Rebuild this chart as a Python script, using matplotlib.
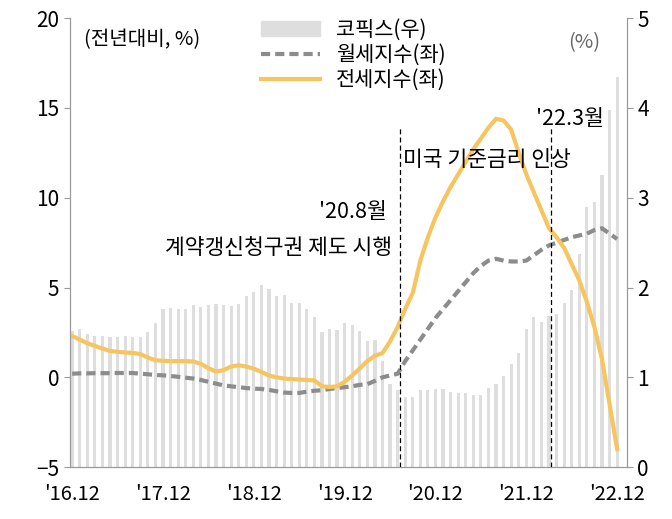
import numpy as np
import matplotlib.pyplot as plt
import matplotlib.patches as mpatches
from matplotlib.lines import Line2D

plt.rcParams['font.family'] = 'Noto Sans CJK KR'

# %% data (monthly, 2016.12 ~ 2022.12)
cofix = [1.52, 1.54, 1.48, 1.46, 1.46, 1.45, 1.45, 1.46, 1.45, 1.45, 1.51, 1.60, 1.76, 1.77, 1.76,
         1.76, 1.80, 1.78, 1.80, 1.82, 1.80, 1.79, 1.82, 1.91, 1.95, 2.03, 1.98, 1.91, 1.92, 1.83,
         1.83, 1.76, 1.67, 1.51, 1.54, 1.53, 1.61, 1.58, 1.52, 1.41, 1.42, 1.18, 0.92,
         0.86, 0.78, 0.78, 0.86, 0.86, 0.87, 0.87, 0.84, 0.82, 0.82, 0.80, 0.80, 0.88, 0.93, 1.01,
         1.15, 1.27, 1.54, 1.67, 1.62, 1.68, 1.71, 1.83, 1.97, 2.37, 2.90, 2.95, 3.25, 3.98, 4.35]
jeonse = [2.3, 2.1, 1.9, 1.75, 1.6, 1.47, 1.42, 1.38, 1.36, 1.3, 1.1, 0.95, 0.92, 0.9, 0.9, 0.9,
          0.88, 0.75, 0.5, 0.32, 0.4, 0.6, 0.67, 0.6, 0.48, 0.3, 0.1, 0.0, -0.07, -0.1, -0.12,
          -0.15, -0.17, -0.5, -0.54, -0.5, -0.25, 0.1, 0.5, 0.9, 1.2, 1.35, 2.0, 2.8, 3.8, 4.7,
          6.5, 7.8, 8.9, 9.8, 10.6, 11.3, 12.0, 12.7, 13.3, 13.9, 14.4, 14.3, 13.8, 12.5, 11.3,
          10.3, 9.3, 8.3, 7.8, 7.2, 6.3, 5.4, 4.2, 2.8, 1.0, -1.5, -4.0]
wolse = [0.2, 0.22, 0.22, 0.23, 0.23, 0.23, 0.24, 0.24, 0.24, 0.2, 0.17, 0.13, 0.11, 0.07, 0.03,
         -0.02, -0.07, -0.15, -0.25, -0.35, -0.45, -0.5, -0.55, -0.6, -0.63, -0.65, -0.7, -0.78,
         -0.85, -0.87, -0.87, -0.8, -0.75, -0.72, -0.65, -0.6, -0.55, -0.5, -0.42, -0.38, -0.2,
         0.0, 0.1, 0.2, 0.9, 1.5, 2.1, 2.7, 3.3, 3.8, 4.3, 4.8, 5.3, 5.8, 6.2, 6.5, 6.6, 6.5,
         6.45, 6.45, 6.5, 6.8, 7.1, 7.35, 7.5, 7.65, 7.8, 7.9, 8.0, 8.2, 8.3, 8.0, 7.7]
xtick_labels = ["'16.12", "'17.12", "'18.12", "'19.12", "'20.12", "'21.12", "'22.12"]

x = np.arange(len(cofix))

# %% plot
fig = plt.figure(figsize=(6.72, 5.19), dpi=100)
ax = fig.add_axes([0.104, 0.1, 0.829, 0.865])
ax2 = ax.twinx()

ax2.bar(x, cofix, width=0.42, color='#dedede', zorder=1)
ax2.set_ylim(0, 5)
ax.set_zorder(ax2.get_zorder() + 1)
ax.patch.set_visible(False)

ax.plot(x, wolse, color='#8c8c8c', lw=3, ls=(0, (2.2, 1.2)))
ax.plot(x, jeonse, color='#f6c55f', lw=3)
ax.axvline(43.3, color='black', lw=0.9, ls=(0, (4, 2.5)), ymax=0.76)
ax.axvline(63.3, color='black', lw=0.9, ls=(0, (4, 2.5)), ymax=0.76)

ax.set_ylim(-5, 20)
ax.set_xlim(-0.3, 73.3)
ax.set_xticks(np.arange(0, 73, 12))
ax.set_xticklabels(xtick_labels)

for a in (ax, ax2):
    for s in a.spines.values():
        s.set_color('#999999')
    a.spines['top'].set_visible(False)
    a.tick_params(labelsize=15, color='#999999', length=4)
ax.tick_params(axis='x', length=0, labelsize=14.5, pad=12)

ax.text(1.5, 18.8, '(전년대비, %)', fontsize=14.5, va='center')
ax2.text(65.5, 4.73, '(%)', fontsize=14.5, va='center', color='#666666')
ax.text(41.5, 9.2, "'20.8월", fontsize=15.5, ha='right', va='center')
ax.text(42.2, 7.2, '계약갱신청구권 제도 시행', fontsize=15.5, ha='right', va='center')
ax.text(43.7, 12.1, '미국 기준금리 인상', fontsize=15.5, va='center')
ax.text(70.2, 14.4, "'22.3월", fontsize=15.5, ha='right', va='center')

handles = [mpatches.Patch(color='#dedede', label='코픽스(우)'),
           Line2D([], [], color='#8c8c8c', lw=3, ls=(0, (2.2, 1.2)), label='월세지수(좌)'),
           Line2D([], [], color='#f6c55f', lw=3, label='전세지수(좌)')]
ax.legend(handles=handles, loc='upper left', bbox_to_anchor=(0.31, 1.04), frameon=False,
          fontsize=15, handlelength=2.8, labelspacing=0.15)

fig.savefig('out.png')
